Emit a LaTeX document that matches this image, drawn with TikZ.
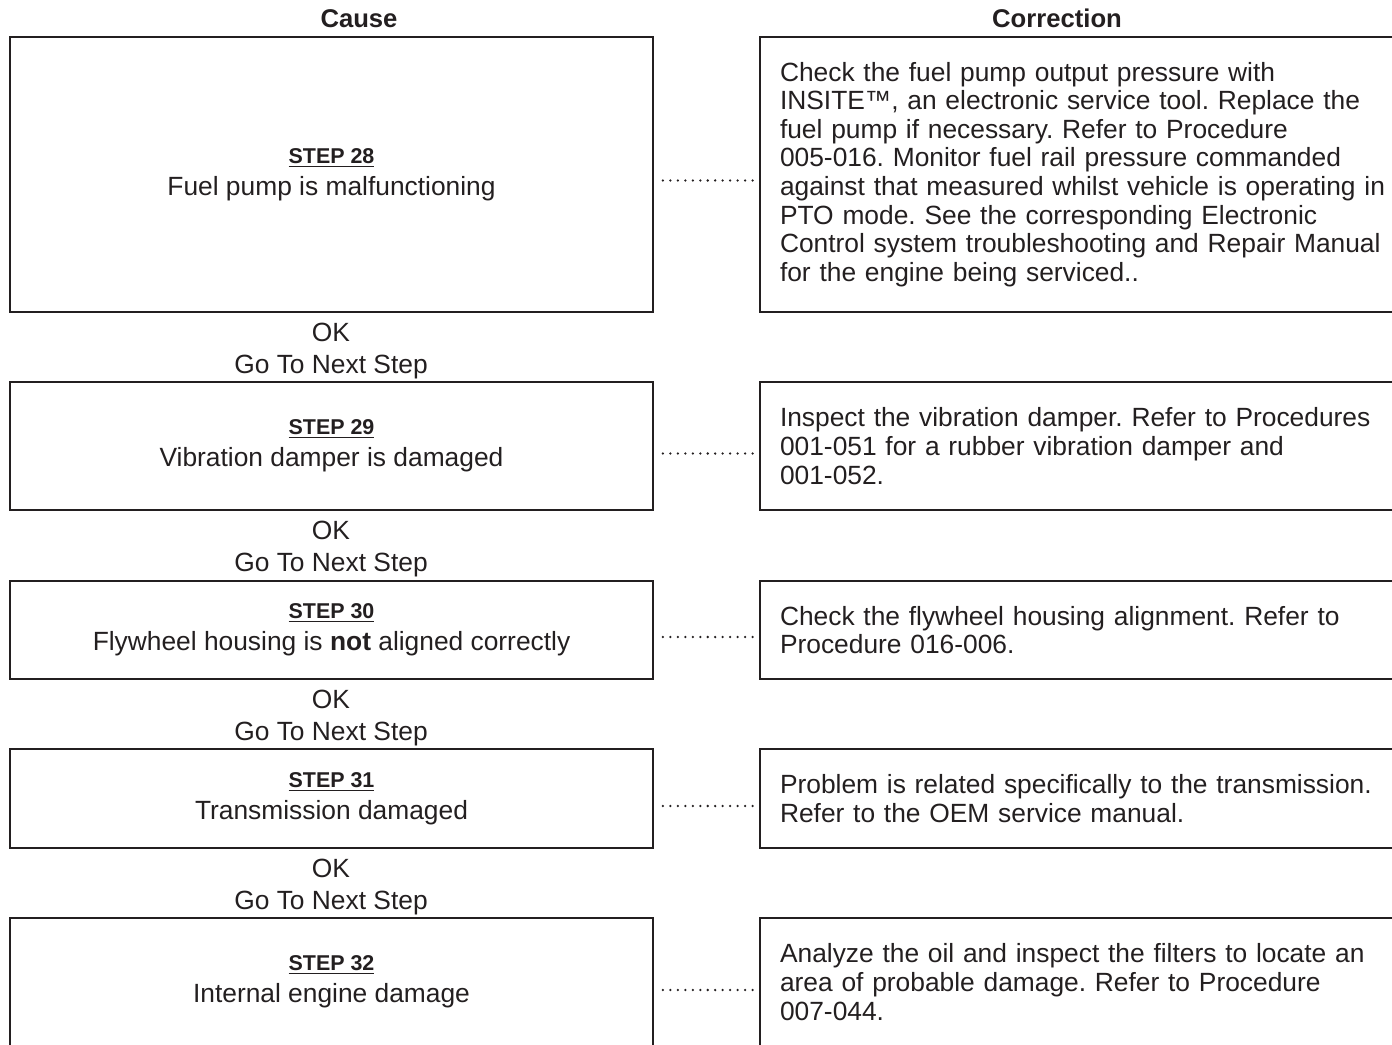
\documentclass[tikz,border=0pt]{standalone}
\usepackage{fontspec}
\setmainfont{Liberation Sans}
\usepackage{tikz}
\usetikzlibrary{positioning}

\definecolor{inkc}{RGB}{35,31,32}
\newcommand{\steplabel}[1]{{\fontsize{12.2}{14}\selectfont\bfseries\underline{#1}}}
\frenchspacing

\begin{document}
\begin{tikzpicture}[x=0.02cm,y=-0.02cm,
    every node/.style={text=inkc,font=\fontsize{15}{18.2}\selectfont},
    head/.style={font=\fontsize{14.6}{17}\selectfont\bfseries,anchor=base},
    causebox/.style={draw=inkc,line width=1.15pt,minimum width=12.86cm,align=center,inner sep=0pt},
    fixbox/.style={draw=inkc,line width=1.15pt,anchor=west,text width=12.6cm,inner xsep=0.4cm,align=left,
      font=\fontsize{15}{16.3}\selectfont},
    oknote/.style={align=center},
    dotlink/.style={draw=inkc,line width=1.45pt,line cap=round,dash pattern=on 0pt off 4.25pt,
      shorten <=0.18cm,shorten >=0.08cm}]
  \useasboundingbox (0,0) rectangle (1392,1044);
  \node[head] (hcause) at (359,28) {Cause};
  \node[head] (hfix) at (1057,28) {Correction};

  \node[causebox,minimum height=5.5cm] (cause28) at (331.5,174.5) {\steplabel{STEP 28}\\Fuel pump is malfunctioning};
  \node[fixbox,minimum height=5.5cm] (fix28) at (759,174.5) {Check the fuel pump output pressure with\\
    INSITE™, an electronic service tool. Replace the\\
    fuel pump if necessary. Refer to Procedure\\
    005-016. Monitor fuel rail pressure commanded\\
    against that measured whilst vehicle is operating in\\
    PTO mode. See the corresponding Electronic\\
    Control system troubleshooting and Repair Manual\\
    for the engine being serviced..};
  \draw[dotlink] ([yshift=-0.12cm]cause28.east) -- ([yshift=-0.12cm]fix28.west);
  \node[oknote] (ok28) at (331,351) {OK\\Go To Next Step};

  \node[causebox,minimum height=2.56cm] (cause29) at (331.5,446) {\steplabel{STEP 29}\\Vibration damper is damaged};
  \node[fixbox,minimum height=2.56cm] (fix29) at (759,446) {Inspect the vibration damper. Refer to Procedures\\
    001-051 for a rubber vibration damper and\\
    001-052.};
  \draw[dotlink] ([yshift=-0.15cm]cause29.east) -- ([yshift=-0.15cm]fix29.west);
  \node[oknote] (ok29) at (331,549.5) {OK\\Go To Next Step};

  \node[causebox,minimum height=1.96cm] (cause30) at (331.5,630) {\steplabel{STEP 30}\\Flywheel housing is \textbf{not} aligned correctly};
  \node[fixbox,minimum height=1.96cm] (fix30) at (759,630) {Check the flywheel housing alignment. Refer to\\
    Procedure 016-006.};
  \draw[dotlink] ([yshift=-0.14cm]cause30.east) -- ([yshift=-0.14cm]fix30.west);
  \node[oknote] (ok30) at (331,718) {OK\\Go To Next Step};

  \node[causebox,minimum height=1.98cm] (cause31) at (331.5,798.5) {\steplabel{STEP 31}\\Transmission damaged};
  \node[fixbox,minimum height=1.98cm] (fix31) at (759,798.5) {Problem is related specifically to the transmission.\\
    Refer to the OEM service manual.};
  \draw[dotlink] ([yshift=-0.15cm]cause31.east) -- ([yshift=-0.15cm]fix31.west);
  \node[oknote] (ok31) at (331,887) {OK\\Go To Next Step};

  \node[causebox,minimum height=2.56cm] (cause32) at (331.5,982) {\steplabel{STEP 32}\\Internal engine damage};
  \node[fixbox,minimum height=2.56cm] (fix32) at (759,982) {Analyze the oil and inspect the filters to locate an\\
    area of probable damage. Refer to Procedure\\
    007-044.};
  \draw[dotlink] ([yshift=-0.16cm]cause32.east) -- ([yshift=-0.16cm]fix32.west);
\end{tikzpicture}
\end{document}
